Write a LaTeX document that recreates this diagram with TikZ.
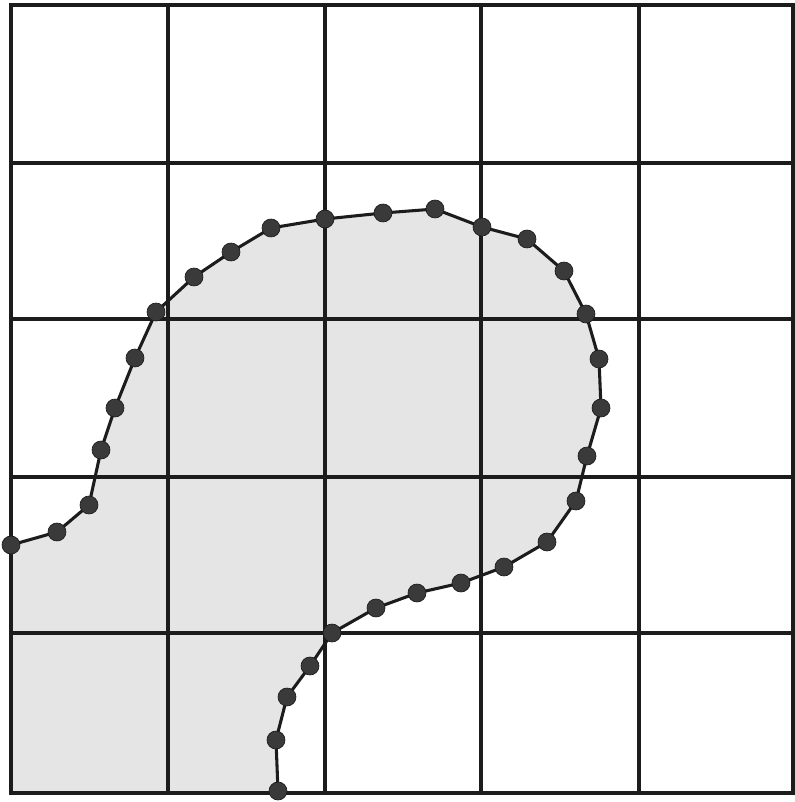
\documentclass[tikz,border=0pt]{standalone}
\definecolor{regiongrey}{RGB}{229,229,229}
\definecolor{ink}{RGB}{28,28,28}
\definecolor{dotc}{RGB}{58,58,58}
\tikzset{
  gridline/.style={ink, line width=2.4pt, line cap=rect},
  frameline/.style={ink, line width=2.8pt, line join=miter},
  boundary/.style={ink, line width=2.3pt, line join=round},
  ptdot/.style={circle, fill=dotc, draw=ink, line width=0.5pt, minimum size=13.5pt, inner sep=0pt}
}
\begin{document}
\begin{tikzpicture}[x=0.75pt,y=-0.75pt]
\useasboundingbox (0,0) rectangle (794,802);
\fill[white] (0,0) rectangle (794,802);
% boundary points
\foreach \px/\py [count=\i] in {
  11/545, 57/532, 89/505, 101/450, 115/408, 135/358, 156/312, 194/277,
  231/252, 271/228, 325/219, 383/213, 435/209, 482/227, 527/239, 564/271,
  586/314, 599/359, 601/408, 587/456, 576/501, 547/542, 504/567, 461/583,
  417/593, 376/608, 332/633, 310/666, 287/697, 276/740, 278/791}
  \coordinate (p\i) at (\px,\py);
\coordinate (bl) at (11,793);
% shaded region
\fill[fill=regiongrey] (p1) \foreach \i in {2,...,31} { -- (p\i) } -- (bl) -- cycle;
% grid
\foreach \gx in {168,325,481,639}
  \draw[gridline] (\gx,5) -- (\gx,793);
\foreach \gy in {163,319,477,633}
  \draw[gridline] (11,\gy) -- (793,\gy);
\draw[frameline] (11,5) rectangle (793,793);
% boundary polyline
\draw[boundary] (p1) \foreach \i in {2,...,31} { -- (p\i) };
% dots
\foreach \i in {1,...,31}
  \node[ptdot] (d\i) at (p\i) {};
\end{tikzpicture}
\end{document}
